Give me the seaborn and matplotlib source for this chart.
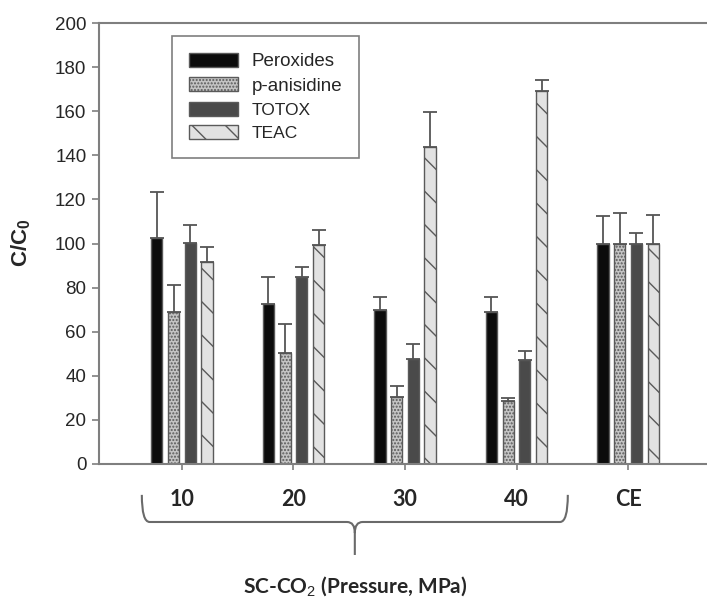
"""
Grouped bar chart of oxidation indices, SC-CO2 vs CE.
"""

import matplotlib

matplotlib.use("Agg")

import matplotlib.pyplot as plt
import matplotlib.patches as mpatches
import matplotlib.transforms as mtransforms
from matplotlib.path import Path
import pandas as pd
import seaborn as sns

groups = ["10", "20", "30", "40", "CE"]
series = ["Peroxides", "p-anisidine", "TOTOX", "TEAC"]

peroxides = [102.4, 72.4, 69.8, 68.8, 100.0]
p_anisidine = [68.8, 50.5, 30.2, 28.4, 100.0]
totox = [100.4, 84.7, 47.6, 47.2, 100.0]
teac = [91.6, 99.5, 143.6, 169.2, 100.0]

peroxides_err = [21.0, 12.3, 5.9, 6.9, 12.6]
p_anisidine_err = [12.2, 13.0, 5.2, 1.4, 14.0]
totox_err = [8.0, 4.6, 6.7, 4.2, 4.6]
teac_err = [7.0, 6.5, 15.9, 5.0, 13.0]

values = [peroxides, p_anisidine, totox, teac]
errors = [peroxides_err, p_anisidine_err, totox_err, teac_err]

df = pd.DataFrame(
    [(g, s, v) for s, vals in zip(series, values) for g, v in zip(groups, vals)],
    columns=["group", "series", "value"],
)

sns.set_style("white")
plt.rcParams["font.family"] = ["Liberation Sans", "DejaVu Sans"]
plt.rcParams["mathtext.fontset"] = "custom"
plt.rcParams["mathtext.rm"] = "Liberation Sans"
plt.rcParams["mathtext.bf"] = "Liberation Sans:bold"
plt.rcParams["hatch.linewidth"] = 1.0

styles = {
    "Peroxides": dict(face="#0c0c0c", hatch=None),
    "p-anisidine": dict(face="#c4c4c4", hatch="....."),
    "TOTOX": dict(face="#4a4a4a", hatch=None),
    "TEAC": dict(face="#e2e2e2", hatch="\\"),
}
edge = "#5a5a5a"
axis_gray = "#7f7f7f"

fig = plt.figure(figsize=(7.07, 6.03), dpi=100)
ax = fig.add_axes([99 / 707, 139 / 603, 611 / 707, 441 / 603])

sns.barplot(
    data=df,
    x="group",
    y="value",
    hue="series",
    order=groups,
    hue_order=series,
    width=0.6,
    gap=0.33,
    errorbar=None,
    legend=False,
    ax=ax,
)

for name, cont, errs in zip(series, ax.containers, errors):
    st = styles[name]
    xs, hs = [], []
    for bar in cont:
        bar.set_facecolor(st["face"])
        bar.set_edgecolor(edge)
        bar.set_linewidth(1.0)
        if st["hatch"]:
            bar.set_hatch(st["hatch"])
        xs.append(bar.get_x() + bar.get_width() / 2)
        hs.append(bar.get_height())
    ax.errorbar(
        xs,
        hs,
        yerr=[[0] * len(errs), errs],
        fmt="none",
        ecolor="#555555",
        elinewidth=1.3,
        capsize=5,
        capthick=1.3,
        zorder=1,
    )

ax.set_xlim(-0.744, 4.735)
ax.set_ylim(0, 200)
ax.set_yticks(range(0, 201, 20))

for side in ["left", "bottom", "top"]:
    ax.spines[side].set_color(axis_gray)
    ax.spines[side].set_linewidth(1.5)
ax.spines["right"].set_visible(False)

ax.tick_params(axis="y", direction="out", length=5, width=1.2, color=axis_gray,
               labelsize=13.5, pad=4, left=True)
ax.tick_params(axis="x", direction="out", length=4, width=1.2, color=axis_gray,
               pad=14, bottom=True)
for lab in ax.get_xticklabels():
    lab.set_fontfamily("Lato")
    lab.set_fontweight("bold")
    lab.set_fontsize(15.5)

ax.set_xlabel("SC-CO$_2$ (Pressure, MPa)", fontfamily="Lato", fontweight="bold",
              fontsize=15)
ax.xaxis.set_label_coords(0.419, -0.252)
ax.set_ylabel(r"C/C$_\mathbf{0}$", fontweight="bold", fontsize=16)
ax.yaxis.set_label_coords(-0.108, 0.501)

# curly brace under the SC-CO2 groups
trans = mtransforms.blended_transform_factory(ax.transData, ax.transAxes)
x0, x1, xc = -0.36, 3.46, 1.55
yt, ym, yb = -0.070, -0.1315, -0.2063
dx = 0.07
verts = [
    (x0, yt), (x0, ym), (x0 + dx, ym),
    (xc - dx, ym), (xc, ym), (xc, ym - 0.025), (xc, yb),
    (xc, ym - 0.025), (xc, ym), (xc + dx, ym),
    (x1 - dx, ym), (x1, ym), (x1, yt),
]
codes = [
    Path.MOVETO, Path.CURVE3, Path.CURVE3,
    Path.LINETO, Path.CURVE3, Path.CURVE3, Path.LINETO,
    Path.MOVETO, Path.CURVE3, Path.CURVE3,
    Path.LINETO, Path.CURVE3, Path.CURVE3,
]
brace = mpatches.PathPatch(Path(verts, codes), facecolor="none", edgecolor="#6a6a6a",
                           linewidth=1.5, transform=trans, clip_on=False)
ax.add_patch(brace)

handles = []
for name in series:
    st = styles[name]
    handles.append(mpatches.Patch(facecolor=st["face"], edgecolor=edge, linewidth=1.0,
                                  hatch=st["hatch"], label=name))
leg = ax.legend(
    handles=handles,
    loc="upper left",
    bbox_to_anchor=(0.1195, 0.9705),
    borderaxespad=0,
    fontsize=13.5,
    handlelength=2.6,
    handleheight=0.78,
    handletextpad=0.75,
    labelspacing=0.36,
    borderpad=0.9,
    fancybox=False,
    framealpha=1,
    edgecolor=axis_gray,
)
leg.get_frame().set_linewidth(1.2)
for t in leg.get_texts()[2:]:
    t.set_fontsize(12.5)

fig.savefig("out.png", dpi=100)
